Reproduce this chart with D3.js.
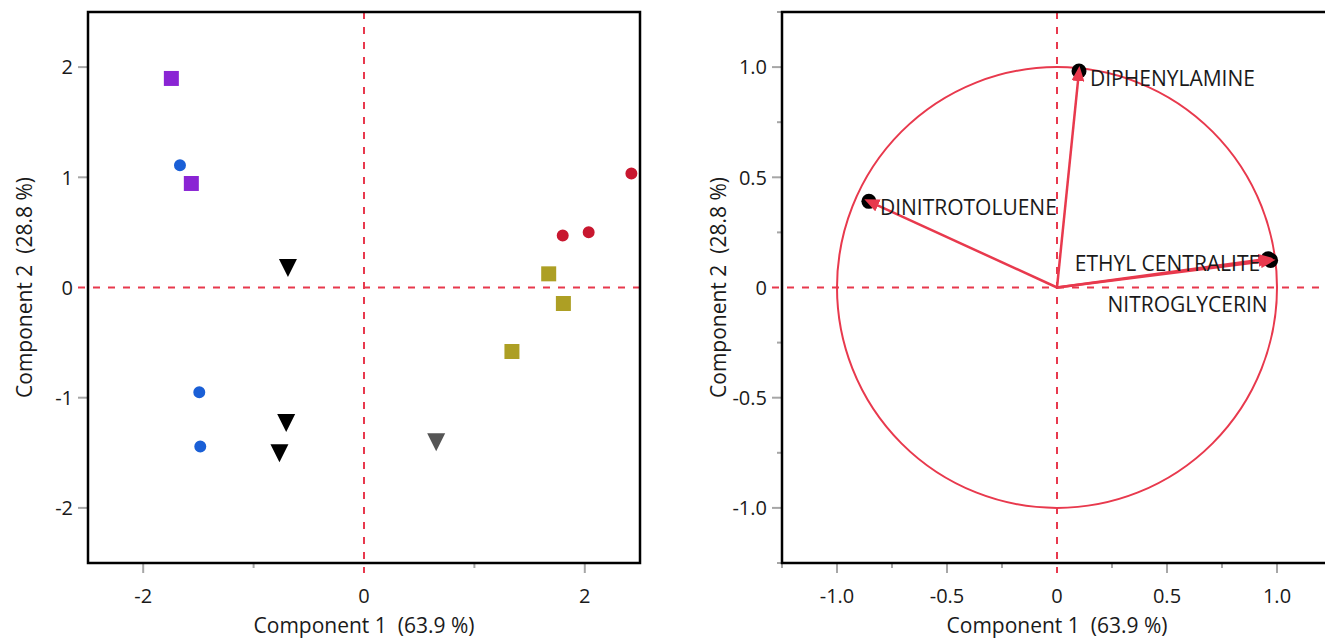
<!DOCTYPE html>
<html>
<head>
<meta charset="utf-8">
<script src="https://cdn.jsdelivr.net/npm/d3@7"></script>
<style>
  html, body { margin: 0; padding: 0; background: #fff; }
  svg { display: block; }
  text { font-family: "Segoe UI", "Open Sans", "Noto Sans", sans-serif; fill: #1a1a1a; white-space: pre; }
</style>
</head>
<body>
<svg id="chart" width="1325" height="640"></svg>
<script>
// ---------- DATA ----------
// Score plot groups (Component 1, Component 2)
const purpleX = [-1.745, -1.564];
const purpleY = [1.897, 0.944];
const blueX = [-1.667, -1.492, -1.483];
const blueY = [1.110, -0.950, -1.443];
const blackX = [-0.689, -0.705, -0.766];
const blackY = [0.177, -1.230, -1.504];
const grayX = [0.654];
const grayY = [-1.404];
const oliveX = [1.673, 1.806, 1.340];
const oliveY = [0.124, -0.145, -0.581];
const redX = [2.422, 1.800, 2.035];
const redY = [1.034, 0.472, 0.502];

// Loading plot
const variables = ["DINITROTOLUENE", "DIPHENYLAMINE", "ETHYL CENTRALITE", "NITROGLYCERIN"];
const loading1 = [-0.855, 0.100, 0.960, 0.971];
const loading2 = [0.391, 0.982, 0.130, 0.123];

// Axis ticks
const scoreTicks = [-2, -1, 0, 1, 2];
const scoreXLabels = [-2, 0, 2];
const scoreYLabels = [-2, -1, 0, 1, 2];
const loadTicks = [-1.25, -1.0, -0.75, -0.5, -0.25, 0, 0.25, 0.5, 0.75, 1.0, 1.25];
const loadLabels = [-1.0, -0.5, 0, 0.5, 1.0];
const xTitle = "Component 1  (63.9 %)";
const yTitle = "Component 2  (28.8 %)";

// ---------- STYLE / LAYOUT ----------
const RED_LINE = "#e8394d";
const TICK_COLOR = "#a6a6a6";
const TICK_FONT = 20;
const TITLE_FONT = 21;
const LABEL_FONT = 21;
const svg = d3.select("#chart");

const downTriangle = {
  draw(ctx, size) {
    const r = Math.sqrt(size) / 2;
    ctx.moveTo(-r, -r);
    ctx.lineTo(r, -r);
    ctx.lineTo(0, r);
    ctx.closePath();
  }
};

const groups = [
  { xs: purpleX, ys: purpleY, color: "#8a24d4", type: d3.symbolSquare, size: 225 },
  { xs: blueX, ys: blueY, color: "#1a5fd6", type: d3.symbolCircle, size: 113 },
  { xs: blackX, ys: blackY, color: "#000000", type: downTriangle, size: 324 },
  { xs: grayX, ys: grayY, color: "#555555", type: downTriangle, size: 324 },
  { xs: oliveX, ys: oliveY, color: "#ad9f24", type: d3.symbolSquare, size: 225 },
  { xs: redX, ys: redY, color: "#c8172f", type: d3.symbolCircle, size: 113 }
];

function fmt(v) {
  return v === 0 ? "0" : String(v);
}
function fmtLoad(v) {
  return v === 0 ? "0" : v.toFixed(1);
}

function drawAxes(g, x, y, xTicks, xLabels, yTicks, yLabels, xf, yf, box) {
  const [L, R, T, B] = box;
  // zero reference lines
  g.append("line")
    .attr("x1", L - 10).attr("x2", R)
    .attr("y1", y(0)).attr("y2", y(0))
    .attr("stroke", RED_LINE).attr("stroke-width", 2)
    .attr("stroke-dasharray", "7,8");
  g.append("line")
    .attr("x1", x(0)).attr("x2", x(0))
    .attr("y1", T).attr("y2", B + 10)
    .attr("stroke", RED_LINE).attr("stroke-width", 2)
    .attr("stroke-dasharray", "7,8");

  // x ticks
  xTicks.forEach(t => {
    if (t === 0) return;
    const major = xLabels.includes(t);
    g.append("line")
      .attr("x1", x(t)).attr("x2", x(t))
      .attr("y1", B).attr("y2", B + (major ? 10 : 5))
      .attr("stroke", TICK_COLOR).attr("stroke-width", 2);
  });
  xLabels.forEach(t => {
    g.append("text")
      .attr("x", x(t)).attr("y", B + 40)
      .attr("text-anchor", "middle")
      .attr("font-size", TICK_FONT)
      .text(xf(t));
  });
  // y ticks
  yTicks.forEach(t => {
    if (t === 0) return;
    const major = yLabels.includes(t);
    g.append("line")
      .attr("x1", L - (major ? 10 : 5)).attr("x2", L)
      .attr("y1", y(t)).attr("y2", y(t))
      .attr("stroke", TICK_COLOR).attr("stroke-width", 2);
  });
  yLabels.forEach(t => {
    g.append("text")
      .attr("x", L - 15).attr("y", y(t))
      .attr("dy", "0.36em")
      .attr("text-anchor", "end")
      .attr("font-size", TICK_FONT)
      .text(yf(t));
  });
  // titles
  g.append("text")
    .attr("x", x(0))
    .attr("y", B + 70)
    .attr("text-anchor", "middle")
    .attr("font-size", TITLE_FONT)
    .text(xTitle);
  g.append("text")
    .attr("transform", `translate(${L - 56},${y(0)}) rotate(-90)`)
    .attr("text-anchor", "middle")
    .attr("font-size", TITLE_FONT)
    .text(yTitle);
}

function drawFrame(g, box, drawRight) {
  const [L, R, T, B] = box;
  const p = d3.path();
  if (drawRight) {
    p.rect(L, T, R - L, B - T);
  } else {
    p.moveTo(R, T); p.lineTo(L, T); p.lineTo(L, B); p.lineTo(R, B);
  }
  g.append("path").attr("d", p.toString())
    .attr("fill", "none").attr("stroke", "#000").attr("stroke-width", 2.5);
}

// ---------- LEFT: score plot ----------
const boxL = [88, 640, 12, 563];
const xL = d3.scaleLinear().domain([-2.5, 2.5]).range([boxL[0], boxL[1]]);
const yL = d3.scaleLinear().domain([-2.5, 2.5]).range([boxL[3], boxL[2]]);
const gL = svg.append("g");
drawAxes(gL, xL, yL, scoreTicks, scoreXLabels, scoreTicks, scoreYLabels, fmt, fmt, boxL);

groups.forEach(gr => {
  const sym = d3.symbol().type(gr.type).size(gr.size);
  gL.selectAll(null)
    .data(gr.xs.map((v, i) => [v, gr.ys[i]]))
    .enter().append("path")
    .attr("d", sym)
    .attr("transform", d => `translate(${xL(d[0])},${yL(d[1])})`)
    .attr("fill", gr.color);
});
drawFrame(gL, boxL, true);

// ---------- RIGHT: loading plot ----------
const boxR = [782, 1332, 12, 563];
const xR = d3.scaleLinear().domain([-1.25, 1.25]).range([boxR[0], boxR[1]]);
const yR = d3.scaleLinear().domain([-1.25, 1.25]).range([boxR[3], boxR[2]]);
const gR = svg.append("g");
drawAxes(gR, xR, yR, loadTicks, loadLabels, loadTicks, loadLabels, fmtLoad, fmtLoad, boxR);

// unit circle
gR.append("ellipse")
  .attr("cx", xR(0)).attr("cy", yR(0))
  .attr("rx", xR(1) - xR(0)).attr("ry", yR(0) - yR(1))
  .attr("fill", "none").attr("stroke", RED_LINE).attr("stroke-width", 2);

// arrowhead marker
svg.append("defs").append("marker")
  .attr("id", "arrow")
  .attr("viewBox", "0 0 15 13")
  .attr("refX", 10).attr("refY", 6.5)
  .attr("markerWidth", 15).attr("markerHeight", 13)
  .attr("markerUnits", "userSpaceOnUse")
  .attr("orient", "auto")
  .append("path").attr("d", "M0,0 L15,6.5 L0,13 Z").attr("fill", RED_LINE);

const loadData = variables.map((v, i) => ({ name: v, a: loading1[i], b: loading2[i] }));

// black dots
gR.selectAll(".dot").data(loadData).enter().append("circle")
  .attr("cx", d => xR(d.a)).attr("cy", d => yR(d.b))
  .attr("r", 7.5).attr("fill", "#000");

// vectors
gR.selectAll(".vec").data(loadData).enter().append("line")
  .attr("x1", xR(0)).attr("y1", yR(0))
  .attr("x2", d => xR(d.a)).attr("y2", d => yR(d.b))
  .attr("stroke", RED_LINE).attr("stroke-width", 2.5)
  .attr("marker-end", "url(#arrow)");

// label placement (layout only)
const labelOffset = {
  "DINITROTOLUENE": { dx: 11, dy: 13.5, anchor: "start" },
  "DIPHENYLAMINE": { dx: 11, dy: 14.5, anchor: "start" },
  "ETHYL CENTRALITE": { dx: -8, dy: 12, anchor: "end" },
  "NITROGLYCERIN": { dx: -3, dy: 51.5, anchor: "end" }
};
gR.selectAll(".lbl").data(loadData).enter().append("text")
  .attr("x", d => xR(d.a) + labelOffset[d.name].dx)
  .attr("y", d => yR(d.b) + labelOffset[d.name].dy)
  .attr("text-anchor", d => labelOffset[d.name].anchor)
  .attr("font-size", LABEL_FONT)
  .text(d => d.name);

drawFrame(gR, boxR, false);
</script>
</body>
</html>
